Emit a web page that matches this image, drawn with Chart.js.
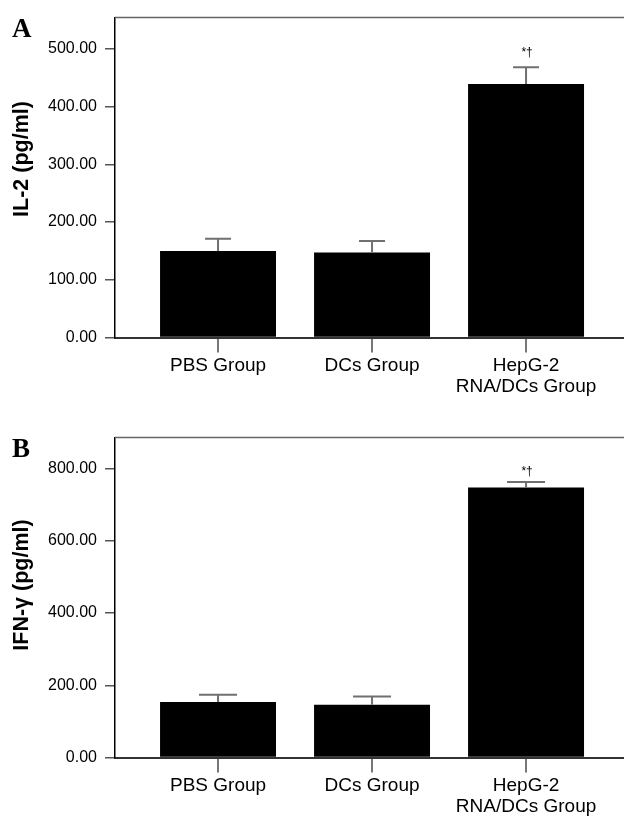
<!DOCTYPE html>
<html>
<head>
<meta charset="utf-8">
<script src="https://cdn.jsdelivr.net/npm/chart.js@4.4.1/dist/chart.umd.min.js"></script>
<style>
  html, body { margin: 0; padding: 0; background: #fff; }
  #wrap { position: relative; width: 624px; height: 817px; overflow: hidden; }
  canvas { position: absolute; left: 0; }
</style>
</head>
<body>
<div id="wrap">
  <canvas id="chartA" width="624" height="420" style="top:0"></canvas>
  <canvas id="chartB" width="624" height="397" style="top:420px"></canvas>
</div>
<script>
// Groups on the x axis (multi-line label as an array)
const categories = ['PBS Group', 'DCs Group', ['HepG-2', 'RNA/DCs Group']];

// Panel A – IL-2 (pg/ml)
const il2Means  = [150, 147, 439];
const il2Errors = [21, 20, 29];
const il2Ticks  = [0, 100, 200, 300, 400, 500];

// Panel B – IFN-γ (pg/ml)
const ifnMeans  = [154, 146, 748];
const ifnErrors = [20, 23, 15];
const ifnTicks  = [0, 200, 400, 600, 800];

// significance marks above the bars
const marks = ['', '', '*†'];

const SANS = '"Liberation Sans", Arial, Helvetica, sans-serif';

// error bars, top frame line, panel letter and y title
function decorPlugin(cfg) {
  return {
    id: 'decor' + cfg.letter,
    afterDatasetsDraw(chart) {
      const ctx = chart.ctx;
      const area = chart.chartArea;
      const yScale = chart.scales.y;
      const meta = chart.getDatasetMeta(0);
      ctx.save();

      // frame line along the top
      ctx.strokeStyle = '#666';
      ctx.lineWidth = 1.5;
      ctx.beginPath();
      ctx.moveTo(area.left, area.top);
      ctx.lineTo(area.right, area.top);
      ctx.stroke();

      // upper error bars
      ctx.strokeStyle = '#707070';
      ctx.lineWidth = 2;
      meta.data.forEach((bar, i) => {
        const yHi = yScale.getPixelForValue(cfg.means[i] + cfg.errors[i]);
        ctx.beginPath();
        ctx.moveTo(bar.x, bar.y);
        ctx.lineTo(bar.x, yHi);
        ctx.moveTo(bar.x - cfg.cap / 2, yHi);
        ctx.lineTo(bar.x + cfg.cap / 2, yHi);
        ctx.stroke();
        if (marks[i]) {
          ctx.fillStyle = '#000';
          ctx.font = '12px ' + SANS;
          ctx.textAlign = 'center';
          ctx.textBaseline = 'bottom';
          ctx.fillText(marks[i], bar.x + 1, yHi - cfg.markGap);
        }
      });

      // panel letter
      ctx.fillStyle = '#000';
      ctx.font = 'bold 27px "Liberation Serif", "Times New Roman", serif';
      ctx.textAlign = 'left';
      ctx.textBaseline = 'alphabetic';
      ctx.fillText(cfg.letter, 12, 37);

      // rotated y title
      ctx.translate(22, cfg.titleY);
      ctx.rotate(-Math.PI / 2);
      ctx.font = 'bold 21.5px ' + SANS;
      ctx.textAlign = 'center';
      ctx.textBaseline = 'middle';
      ctx.fillText(cfg.title, 0, 0);

      ctx.restore();
    }
  };
}

function makeChart(id, cfg) {
  const canvas = document.getElementById(id);
  return new Chart(canvas, {
    type: 'bar',
    data: {
      datasets: [{
        data: cfg.means.map((v, i) => ({ x: i + 1, y: v })),
        backgroundColor: '#000',
        borderWidth: 0,
        categoryPercentage: 1,
        barPercentage: 0.753,
      }],
    },
    options: {
      responsive: false,
      animation: false,
      layout: { padding: { top: 12, left: 0, right: 0, bottom: 0 } },
      plugins: { legend: { display: false }, tooltip: { enabled: false } },
      scales: {
        x: {
          type: 'linear',
          offset: false,
          min: 0.331,
          max: 3.636,
          afterBuildTicks: s => { s.ticks = categories.map((c, i) => ({ value: i + 1 })); },
          afterFit: s => { s.height = canvas.height - 12 - 325.5; },
          ticks: {
            color: '#000',
            padding: 3,
            maxRotation: 0,
            autoSkip: false,
            font: { family: SANS, size: 19, lineHeight: 1.1 },
            callback: (v) => categories[v - 1],
          },
          grid: { offset: false, drawOnChartArea: false, tickLength: 15, color: '#777', lineWidth: 2 },
          border: { color: '#333', width: 2 },
        },
        y: {
          min: 0,
          max: cfg.yMax,
          afterBuildTicks: s => { s.ticks = cfg.ticks.map(v => ({ value: v })); },
          afterFit: s => { s.width = 115; },
          ticks: {
            color: '#000',
            padding: 8,
            font: { family: SANS, size: 16 },
            callback: v => Number(v).toFixed(2),
          },
          grid: { drawOnChartArea: false, tickLength: 10, color: '#555', lineWidth: 1.5 },
          border: { color: '#000', width: 1.5 },
        },
      },
    },
    plugins: [decorPlugin(cfg)],
  });
}

makeChart('chartA', {
  letter: 'A', title: 'IL-2 (pg/ml)', titleY: 159,
  means: il2Means, errors: il2Errors, ticks: il2Ticks,
  yMax: 554, cap: 26, markGap: 9,
});

makeChart('chartB', {
  letter: 'B', title: 'IFN-γ (pg/ml)', titleY: 165,
  means: ifnMeans, errors: ifnErrors, ticks: ifnTicks,
  yMax: 886, cap: 38, markGap: 4,
});
</script>
</body>
</html>
